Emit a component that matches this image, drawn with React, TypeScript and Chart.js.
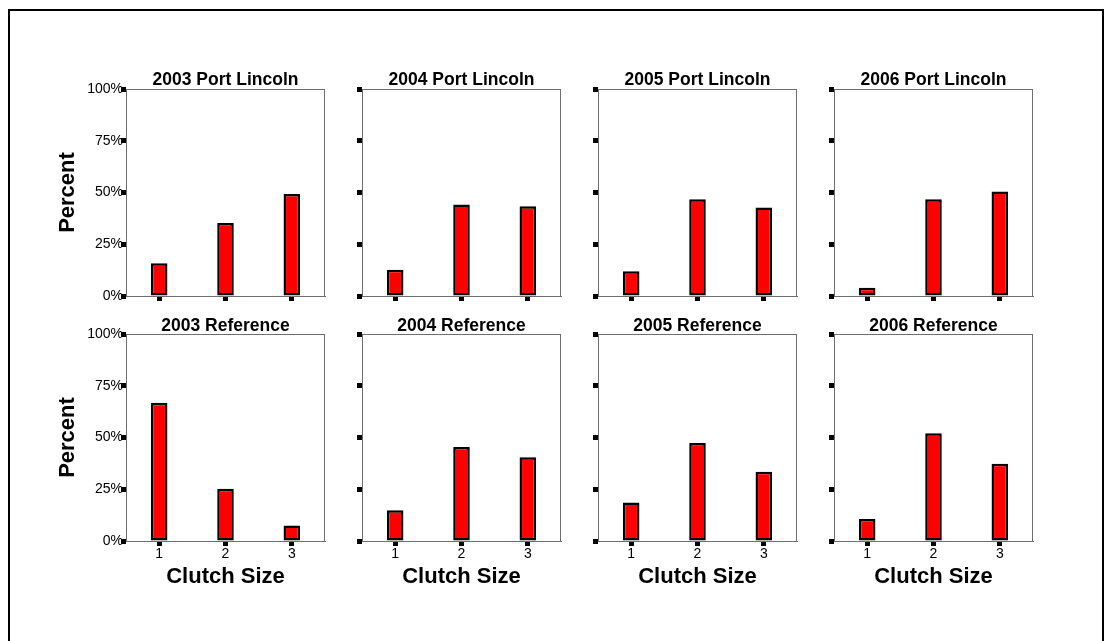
import React, { useEffect, useRef } from 'react';
import { Chart, registerables } from 'chart.js';

Chart.register(...registerables);

// Clutch-size distributions (% of nests) per year and site
const clutchSizes = ['1', '2', '3'];
const years = ['2003', '2004', '2005', '2006'];
const sites = ['Port Lincoln', 'Reference'];
const percentTicks = [0, 25, 50, 75, 100];

const portLincoln2003 = [15.8, 35.3, 49.3];
const portLincoln2004 = [12.7, 44.2, 43.4];
const portLincoln2005 = [12.0, 46.7, 42.8];
const portLincoln2006 = [4.0, 46.7, 50.5];

const reference2003 = [66.8, 25.3, 7.5];
const reference2004 = [14.8, 45.4, 40.5];
const reference2005 = [18.6, 47.3, 33.5];
const reference2006 = [10.6, 52.1, 37.3];

const seriesBySite = [
  [portLincoln2003, portLincoln2004, portLincoln2005, portLincoln2006],
  [reference2003, reference2004, reference2005, reference2006],
];

const FONT = 'Arial, "Liberation Sans", Helvetica, sans-serif';
const AXIS_GREY = '#6e6e6e';

// Grid geometry of the small multiples
const PLOT_LEFTS = [126, 362, 598, 834];
const PLOT_W = 199;
const Y_AXIS_W = 80;
const RIGHT_PAD = 6;
const ROW_TOPS = [69, 316];
const ROW_HEIGHTS = [237, 274];
const X_AXIS_H = [10, 49];
const TITLE_PAD_TOP = [3, 2];
const TITLE_LINE = ['17px', '16px'];

// Thin frame along the top and right of the plot area
const framePlugin = {
  id: 'plotFrame',
  beforeDatasetsDraw(chart: any) {
    const { ctx, chartArea } = chart;
    const { left, right, top, bottom } = chartArea;
    ctx.save();
    ctx.strokeStyle = AXIS_GREY;
    ctx.lineWidth = 1;
    ctx.beginPath();
    ctx.moveTo(Math.round(left), Math.round(top) + 0.5);
    ctx.lineTo(Math.round(right), Math.round(top) + 0.5);
    ctx.moveTo(Math.round(right) - 0.5, Math.round(top));
    ctx.lineTo(Math.round(right) - 0.5, Math.round(bottom));
    ctx.stroke();
    ctx.restore();
  },
};

type PanelProps = {
  title: string;
  values: number[];
  row: number;
  col: number;
};

function Panel({ title, values, row, col }: PanelProps) {
  const ref = useRef<HTMLCanvasElement | null>(null);
  const showY = col === 0;
  const showX = row === 1;

  useEffect(() => {
    if (!ref.current) return;
    const tickSquare = {
      drawOnChartArea: false,
      drawTicks: true,
      tickLength: 5,
      tickWidth: 5,
      tickColor: '#000',
    };
    const chart = new Chart(ref.current, {
      type: 'bar',
      data: {
        labels: clutchSizes,
        datasets: [
          {
            data: values,
            backgroundColor: '#ff0000',
            borderColor: '#000000',
            borderWidth: 2.5,
            borderSkipped: false,
            barPercentage: 0.25,
            categoryPercentage: 1,
          },
        ],
      },
      options: {
        animation: false,
        responsive: false,
        events: [],
        layout: { padding: { left: 0, right: RIGHT_PAD, top: 0, bottom: 0 } },
        plugins: {
          legend: { display: false },
          tooltip: { enabled: false },
          title: {
            display: true,
            text: title,
            fullSize: false,
            color: '#000',
            font: { family: FONT, size: 17.5, weight: 'bold', lineHeight: TITLE_LINE[row] },
            padding: { top: TITLE_PAD_TOP[row], bottom: 0 },
          },
        },
        scales: {
          x: {
            type: 'category',
            grid: { ...tickSquare, offset: false },
            border: { display: true, color: AXIS_GREY, width: 1 },
            ticks: {
              display: showX,
              color: '#000',
              padding: 0,
              maxRotation: 0,
              font: { family: FONT, size: 14 },
            },
            title: {
              display: showX,
              text: 'Clutch Size',
              color: '#000',
              padding: 0,
              font: { family: FONT, size: 22, weight: 'bold' },
            },
            afterFit: (scale: any) => {
              scale.height = X_AXIS_H[row];
            },
          },
          y: {
            min: percentTicks[0],
            max: percentTicks[percentTicks.length - 1],
            afterBuildTicks: (scale: any) => {
              scale.ticks = percentTicks.map((v) => ({ value: v }));
            },
            grid: tickSquare,
            border: { display: true, color: AXIS_GREY, width: 1 },
            ticks: {
              display: showY,
              color: '#000',
              padding: -2,
              font: { family: FONT, size: 14 },
              callback: (v: any) => `${v}%`,
            },
            title: {
              display: showY,
              text: 'Percent',
              color: '#000',
              padding: { top: 9, bottom: 0 },
              font: { family: FONT, size: 22, weight: 'bold' },
            },
            afterFit: (scale: any) => {
              scale.width = Y_AXIS_W;
            },
          },
        },
      },
      plugins: [framePlugin],
    } as any);
    return () => chart.destroy();
  }, [title, values, row, col]);

  const width = Y_AXIS_W + PLOT_W + RIGHT_PAD;
  const height = ROW_HEIGHTS[row];
  return (
    <canvas
      ref={ref}
      width={width}
      height={height}
      style={{
        position: 'absolute',
        left: PLOT_LEFTS[col] - Y_AXIS_W,
        top: ROW_TOPS[row],
        width,
        height,
        display: 'block',
      }}
    />
  );
}

export default function App() {
  return (
    <div
      style={{
        position: 'fixed',
        left: 0,
        top: 0,
        width: 1106,
        height: 641,
        overflow: 'hidden',
        background: '#ffffff',
      }}
    >
      <div
        style={{
          position: 'absolute',
          left: 8,
          top: 9,
          width: 1092,
          height: 700,
          border: '2px solid #000',
        }}
      />
      {sites.map((site, row) =>
        years.map((year, col) => (
          <Panel
            key={`${site}-${year}`}
            title={`${year} ${site}`}
            values={seriesBySite[row][col]}
            row={row}
            col={col}
          />
        ))
      )}
    </div>
  );
}
